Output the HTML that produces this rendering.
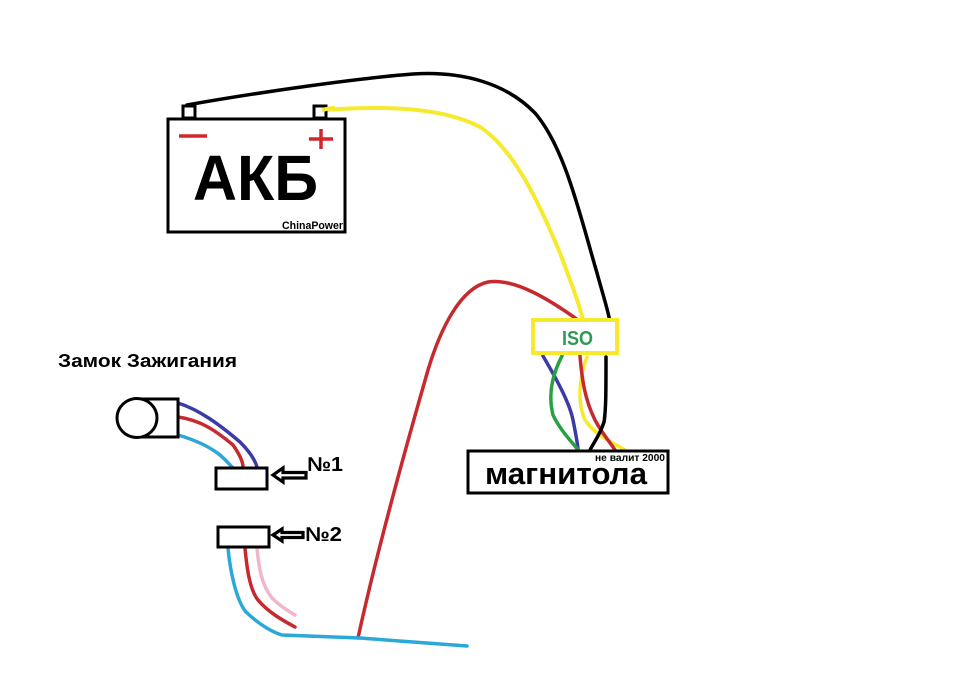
<!DOCTYPE html>
<html><head><meta charset="utf-8"><style>
html,body{margin:0;padding:0;background:#fff;}
svg{display:block;}
text{font-family:"Liberation Sans","DejaVu Sans",sans-serif;font-weight:bold;}
</style></head><body>
<svg width="960" height="674" viewBox="0 0 960 674" xmlns="http://www.w3.org/2000/svg">
<rect width="960" height="674" fill="#fff"/>
<g fill="none" stroke-linecap="round" stroke-linejoin="round">
<!-- black wire -->
<path d="M187,105 C260,92 360,78 413,74 C460,71 505,82 535,113 C565,148 580,215 597,273 C603,295 608,310 610,322" stroke="#000" stroke-width="3.5"/>
<!-- yellow wire -->
<path d="M322,110 C380,106 440,106 480,127 C515,150 540,205 560,253 C570,280 578,300 583,320" stroke="#f5ea2e" stroke-width="4"/>
<!-- big red wire -->
<path d="M358,638 C375,560 405,450 428,370 C440,330 460,288 488,282 C515,278 550,300 578,320" stroke="#c62a2e" stroke-width="3.5"/>
<!-- below ISO -->
<path d="M543,356 C560,385 570,405 573,420 C576,435 578,445 578,450" stroke="#3b3ba8" stroke-width="3.5"/>
<path d="M562,356 C552,375 548,395 553,415 C560,430 572,442 578,450" stroke="#28a043" stroke-width="3.5"/>
<path d="M587,357 C578,380 578,405 585,420 C595,435 612,442 625,450" stroke="#f5ea2e" stroke-width="3.5"/>
<path d="M580,356 C582,380 585,400 595,420 C603,435 610,442 615,450" stroke="#c62a2e" stroke-width="3.5"/>
<path d="M606,357 C606,390 606,410 604,422 C600,435 594,442 590,450" stroke="#000" stroke-width="3.5"/>
<!-- ignition wires -->
<path d="M178,403 C200,410 220,425 240,442 C250,452 255,460 257,467" stroke="#3b3ba8" stroke-width="3.5"/>
<path d="M178,417 C200,420 215,430 233,445 C240,455 243,462 243,467" stroke="#c62a2e" stroke-width="3.5"/>
<path d="M178,435 C195,440 210,447 220,455 C227,461 230,465 232,467" stroke="#2aa8d8" stroke-width="3.5"/>
<!-- wires from №2 -->
<path d="M228,548 C230,570 236,600 246,612 C260,625 272,632 282,635 L360,638 L467,646" stroke="#2aa8d8" stroke-width="3.5"/>
<path d="M245,548 C247,570 250,590 258,600 C268,612 282,620 295,627" stroke="#c62a2e" stroke-width="3.5"/>
<path d="M257,548 C259,570 262,585 272,598 C280,606 288,611 295,615" stroke="#f2b6cc" stroke-width="3.5"/>
</g>
<!-- battery -->
<rect x="183" y="106" width="12" height="12" fill="#fff" stroke="#000" stroke-width="3"/>
<rect x="314" y="106" width="12" height="12" fill="#fff" stroke="#000" stroke-width="3"/>
<path d="M322,110 C326,109 330,108 335,108" stroke="#f5ea2e" stroke-width="4" fill="none"/>
<rect x="168" y="119" width="177" height="113" fill="#fff" stroke="#000" stroke-width="3"/>
<line x1="179" y1="136" x2="207" y2="136" stroke="#d0262e" stroke-width="3.5"/>
<line x1="309" y1="139" x2="333" y2="139" stroke="#d0262e" stroke-width="3.5"/>
<line x1="321" y1="129" x2="321" y2="149" stroke="#d0262e" stroke-width="3.5"/>
<text x="193" y="200" font-size="64" textLength="125" lengthAdjust="spacingAndGlyphs">АКБ</text>
<text x="282" y="229" font-size="11" textLength="61" lengthAdjust="spacingAndGlyphs">ChinaPower</text>
<!-- ISO -->
<rect x="533" y="320" width="84" height="33" fill="#fff" stroke="#f5ea2e" stroke-width="4"/>
<text x="562" y="345" font-size="20" fill="#2e9a56" textLength="31" lengthAdjust="spacingAndGlyphs">ISO</text>
<!-- magnitola -->
<rect x="468" y="451" width="200" height="42" fill="#fff" stroke="#000" stroke-width="3"/>
<text x="485" y="484" font-size="31" textLength="162" lengthAdjust="spacingAndGlyphs">магнитола</text>
<text x="595" y="461" font-size="10" textLength="70" lengthAdjust="spacingAndGlyphs">не валит 2000</text>
<!-- ignition -->
<text x="58" y="367" font-size="18" textLength="179" lengthAdjust="spacingAndGlyphs">Замок Зажигания</text>
<rect x="137" y="399" width="41" height="38" fill="#fff" stroke="#000" stroke-width="3"/>
<ellipse cx="137" cy="418" rx="20" ry="19.5" fill="#fff" stroke="#000" stroke-width="3"/>
<!-- connectors -->
<rect x="216" y="468" width="51" height="21" fill="#fff" stroke="#000" stroke-width="3"/>
<polygon points="273,475 283,468 283,472.5 306,472.5 306,478 283,478 283,482" fill="#fff" stroke="#000" stroke-width="3.2" stroke-linejoin="miter"/>
<text x="307" y="471" font-size="20" textLength="36" lengthAdjust="spacingAndGlyphs">№1</text>
<rect x="218" y="527" width="51" height="20" fill="#fff" stroke="#000" stroke-width="3"/>
<polygon points="273,535 282,529 282,532.5 303,532.5 303,537.5 282,537.5 282,541" fill="#fff" stroke="#000" stroke-width="3.2" stroke-linejoin="miter"/>
<text x="305" y="541" font-size="20" textLength="37" lengthAdjust="spacingAndGlyphs">№2</text>
</svg>
</body></html>
